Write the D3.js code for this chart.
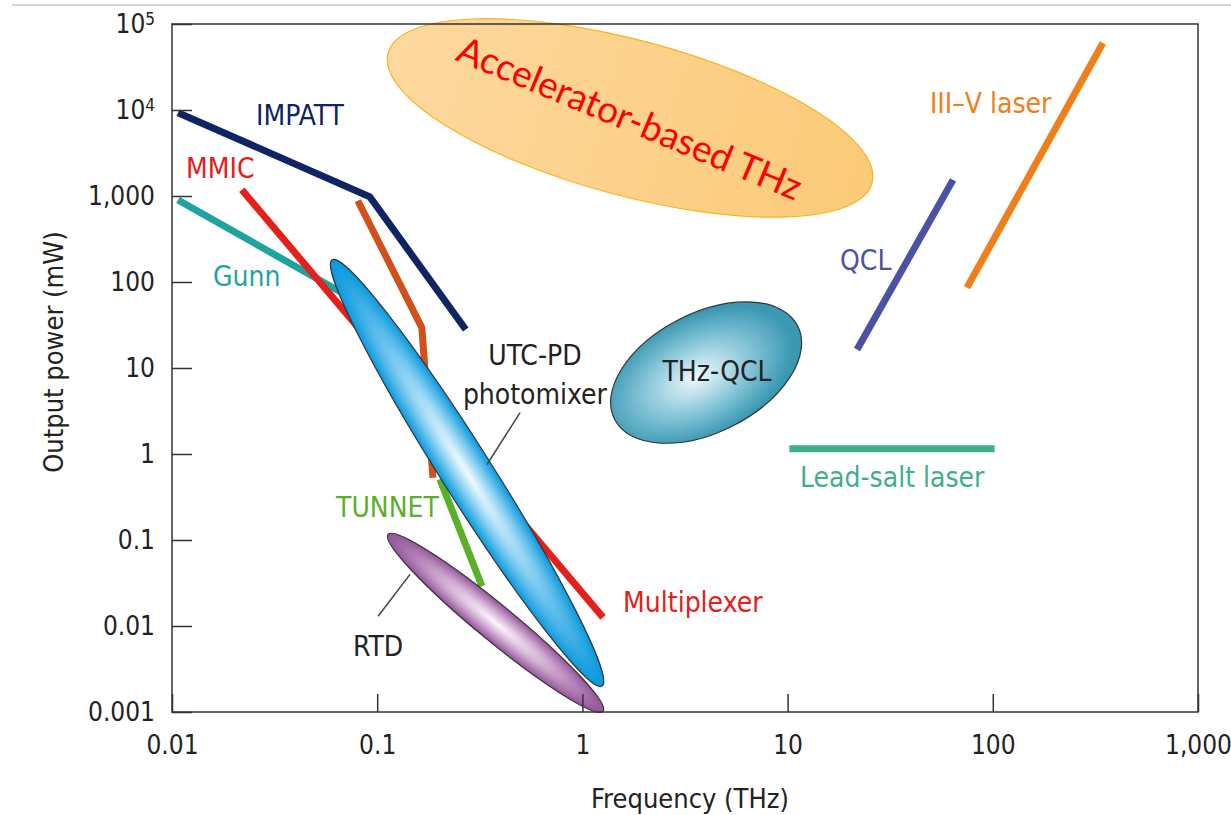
<!DOCTYPE html>
<meta charset="utf-8">
<style>
body { margin: 0; background: #fff; }
svg text { font-family: "Liberation Sans Narrow", "Arial Narrow", "DejaVu Sans Condensed", "Liberation Sans", sans-serif; }
.axis path { display: none; }
.axis line { stroke: #333; stroke-width: 1.5; }
.axis text { fill: #222; font-size: 26px; }
.frame { fill: none; stroke: #333; stroke-width: 1.5; }
</style>
<body>
<script src="https://cdn.jsdelivr.net/npm/d3@7/dist/d3.min.js"></script>
<script>

var width = 1231
var height = 815

// data: [frequency (THz), output power (mW)]
var impatt = [[0.0107, 9300], [0.092, 980], [0.27, 28]]
var mmic = [[0.0219, 1180], [1.26, 0.0126]]          // MMIC -> multiplexer
var gunn = [[0.0107, 900], [0.066, 77]]
var multiplierChain = [[0.0805, 880], [0.165, 29.5], [0.187, 0.53]]
var tunnet = [[0.202, 0.51], [0.324, 0.029]]
var qcl = [[21.8, 16.4], [64, 1540]]
var iiiV = [[74.8, 86], [344, 60100]]
var leadSalt = [[10.2, 1.15], [102, 1.15]]

// regions: tips of major axis in data space
var accelerator = [[0.113, 46000], [25.8, 1420]]
var thzQcl = [[1.434, 2.54], [11.2, 30.8]]
var utcPd = [[0.0603, 181], [1.246, 0.002]]
var rtd = [[0.113, 0.116], [1.26, 0.00102]]

var xTicks = [0.01, 0.1, 1, 10, 100, 1000]
var xTickLabels = ["0.01", "0.1", "1", "10", "100", "1,000"]
var yTicks = [0.001, 0.01, 0.1, 1, 10, 100, 1000, 1e4, 1e5]
var yTickLabels = ["0.001", "0.01", "0.1", "1", "10", "100", "1,000", "10|4", "10|5"]

var labels = [
  {text: "IMPATT", f: 0.0257, p: 6710, color: "#0e2463", anchor: "start"},
  {text: "MMIC", f: 0.0117, p: 1625, color: "#e3201b", anchor: "start"},
  {text: "Gunn", f: 0.01584, p: 90.6, color: "#1fa3a0", anchor: "start"},
  {text: "UTC-PD", f: 0.587, p: 10.7, color: "#222", anchor: "middle"},
  {text: "photomixer", f: 0.587, p: 3.86, color: "#222", anchor: "middle"},
  {text: "THz-QCL", f: 4.53, p: 7.14, color: "#222", anchor: "middle"},
  {text: "QCL", f: 18.0, p: 139, color: "#4b52a3", anchor: "start"},
  {text: "III\u2013V laser", f: 49.4, p: 9250, color: "#ef7f1a", anchor: "start"},
  {text: "Lead-salt laser", f: 11.5, p: 0.408, color: "#3fae8e", anchor: "start"},
  {text: "TUNNET", f: 0.063, p: 0.183, color: "#5bb02a", anchor: "start"},
  {text: "RTD", f: 0.0762, p: 0.00445, color: "#222", anchor: "start"},
  {text: "Multiplexer", f: 1.578, p: 0.0144, color: "#e3201b", anchor: "start"}
]

var leaders = [
  [[0.497, 3.03], [0.343, 0.755]],
  [[0.1445, 0.0398], [0.101, 0.01297]]
]

var svg = d3.select("body").append("svg")
    .attr("width", width)
    .attr("height", height)

var defs = svg.append("defs")

var x = d3.scaleLog().domain([0.01, 1000]).range([172, 1198])
var y = d3.scaleLog().domain([0.001, 1e5]).range([712, 24])

// thin grey border line at the top of the screenshot
svg.append("line")
    .attr("x1", 12).attr("x2", width)
    .attr("y1", 5).attr("y2", 5)
    .attr("stroke", "#c8c8c8").attr("stroke-width", 1.5)

function radial(id, stops, cx) {
  var g = defs.append("radialGradient").attr("id", id)
      .attr("cx", cx || "50%").attr("cy", "50%").attr("r", "50%")
  stops.forEach(function(s) {
    g.append("stop").attr("offset", s[0]).attr("stop-color", s[1])
  })
}

var accGrad = defs.append("linearGradient").attr("id", "acc")
accGrad.append("stop").attr("offset", 0).attr("stop-color", "#fdd9a0")
accGrad.append("stop").attr("offset", 1).attr("stop-color", "#fbca78")
radial("qclGrad", [[0, "#f0f9fc"], [0.55, "#86c6d8"], [1, "#3a98b3"]], "45%")
radial("utcGrad", [[0, "#f4fbff"], [0.45, "#8dd2f2"], [1, "#0898de"]])
radial("rtdGrad", [[0, "#fdf6fd"], [0.5, "#cfa9d0"], [1, "#93549a"]])

function ellipse(tips, ratio, fill, stroke) {
  var p1 = [x(tips[0][0]), y(tips[0][1])]
  var p2 = [x(tips[1][0]), y(tips[1][1])]
  var cx = (p1[0] + p2[0]) / 2, cy = (p1[1] + p2[1]) / 2
  var a = Math.hypot(p2[0] - p1[0], p2[1] - p1[1]) / 2
  var ang = Math.atan2(p2[1] - p1[1], p2[0] - p1[0]) * 180 / Math.PI
  return svg.append("ellipse")
      .attr("transform", "translate(" + cx + "," + cy + ") rotate(" + ang + ")")
      .attr("rx", a)
      .attr("ry", a * ratio)
      .attr("fill", fill)
      .attr("stroke", stroke)
      .attr("stroke-width", 1.2)
}

// accelerator-based region
ellipse(accelerator, 0.31, "url(#acc)", "#f5b51e")
svg.append("text")
    .attr("transform", "translate(" + x(1.7) + "," + y(8000) + ") rotate(22.5)")
    .attr("text-anchor", "middle")
    .attr("dy", "0.35em")
    .attr("fill", "#ff0000")
    .style("font-family", "Lato, 'Open Sans', sans-serif")
    .style("font-size", "37px")
    .text("Accelerator-based THz")

ellipse(thzQcl, 0.58, "url(#qclGrad)", "#333")

var line = d3.line()
    .x(function(d) { return x(d[0]) })
    .y(function(d) { return y(d[1]) })

var series = [
  {data: gunn, color: "#1fa3a0"},
  {data: mmic, color: "#e3201b"},
  {data: impatt, color: "#0e2463"},
  {data: multiplierChain, color: "#d2501b"},
  {data: tunnet, color: "#5bb02a"},
  {data: qcl, color: "#4b52a3"},
  {data: iiiV, color: "#ef7f1a"},
  {data: leadSalt, color: "#3fae8e"}
]

svg.selectAll(".series").data(series).enter().append("path")
    .attr("class", "series")
    .attr("d", function(d) { return line(d.data) })
    .attr("fill", "none")
    .attr("stroke", function(d) { return d.color })
    .attr("stroke-width", 7)
    .attr("stroke-linejoin", "miter")

ellipse(utcPd, 0.1, "url(#utcGrad)", "#333")
ellipse(rtd, 0.13, "url(#rtdGrad)", "#333")

svg.selectAll(".leader").data(leaders).enter().append("path")
    .attr("class", "leader")
    .attr("d", line)
    .attr("stroke", "#444")
    .attr("stroke-width", 1.5)

svg.selectAll(".label").data(labels).enter().append("text")
    .attr("class", "label")
    .attr("x", function(d) { return x(d.f) })
    .attr("y", function(d) { return y(d.p) })
    .attr("text-anchor", function(d) { return d.anchor })
    .attr("fill", function(d) { return d.color })
    .style("font-size", "28px")
    .text(function(d) { return d.text })

// axes
var xAxis = d3.axisBottom(x)
    .tickValues(xTicks)
    .tickSizeInner(-18)
    .tickSizeOuter(0)
    .tickPadding(24)
    .tickFormat(function(d, i) { return xTickLabels[i] })

var yAxis = d3.axisLeft(y)
    .tickValues(yTicks)
    .tickSizeInner(-20)
    .tickSizeOuter(0)
    .tickPadding(17)
    .tickFormat("")

svg.append("g")
    .attr("class", "x axis")
    .attr("transform", "translate(0," + y(0.001) + ")")
    .call(xAxis)

var ya = svg.append("g")
    .attr("class", "y axis")
    .attr("transform", "translate(" + x(0.01) + ",0)")
    .call(yAxis)

ya.selectAll(".tick text").each(function(d, i) {
  var t = d3.select(this)
  var parts = yTickLabels[i].split("|")
  t.text(parts[0])
  if (parts[1]) {
    t.append("tspan").attr("dy", "-0.45em").style("font-size", "17px").text(parts[1])
  }
})

svg.append("rect")
    .attr("class", "frame")
    .attr("x", x(0.01))
    .attr("y", y(1e5))
    .attr("width", x(1000) - x(0.01))
    .attr("height", y(0.001) - y(1e5))

svg.append("text")
    .attr("x", (x(0.01) + x(1000)) / 2 + 5)
    .attr("y", 808)
    .attr("text-anchor", "middle")
    .attr("fill", "#222")
    .style("font-size", "27px")
    .text("Frequency (THz)")

svg.append("text")
    .attr("transform", "translate(63," + 352 + ") rotate(-90)")
    .attr("text-anchor", "middle")
    .attr("fill", "#222")
    .style("font-size", "27px")
    .text("Output power (mW)")

</script>
